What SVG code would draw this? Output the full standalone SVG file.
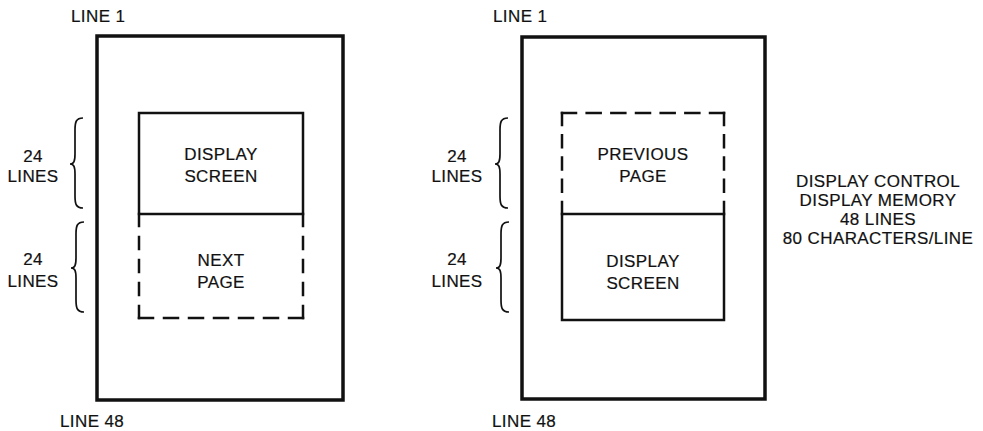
<svg xmlns="http://www.w3.org/2000/svg" width="983" height="431" viewBox="0 0 983 431">
<defs>
<style>
text{font-family:"Liberation Sans",Arial,sans-serif;font-size:17px;fill:#111;letter-spacing:0.4px;stroke:#111;stroke-width:0.2px}
.c{text-anchor:middle}
.outer{fill:none;stroke:#111;stroke-width:3.5}
.solid{fill:none;stroke:#111;stroke-width:2.5}
.dash{fill:none;stroke:#111;stroke-width:2.5;stroke-linecap:square}
.brace{fill:none;stroke:#111;stroke-width:1.7}
</style>
<path id="br" d="M13,0 C6,0 5,4 5,12 L5,36 C5,43 4,46 0,46 C4,46 5,49 5,56 L5,78 C5,86 6,90 13,90"/>
</defs>
<rect width="983" height="431" fill="#fff"/>

<g id="left-memory">
<rect class="outer" x="97" y="36" width="246" height="364"/>
<text x="71" y="22">LINE 1</text>
<text x="60" y="427">LINE 48</text>
</g>
<g id="left-display-screen">
<rect class="solid" x="139" y="113" width="164" height="101"/>
<text class="c" x="221" y="160">DISPLAY</text>
<text class="c" x="221" y="182">SCREEN</text>
</g>
<g id="left-next-page">
<line class="dash" x1="139" y1="214" x2="139" y2="318" stroke-dasharray="12 11"/>
<line class="dash" x1="139" y1="318" x2="303" y2="318" stroke-dasharray="14 11"/>
<line class="dash" x1="303" y1="214" x2="303" y2="318" stroke-dasharray="12 11"/>
<text class="c" x="221" y="266">NEXT</text>
<text class="c" x="221" y="288">PAGE</text>
</g>
<g id="left-brace-top">
<use href="#br" class="brace" x="70" y="118"/>
<text class="c" x="33" y="162">24</text>
<text class="c" x="33" y="182">LINES</text>
</g>
<g id="left-brace-bottom">
<use href="#br" class="brace" x="71" y="222"/>
<text class="c" x="33" y="265">24</text>
<text class="c" x="33" y="287">LINES</text>
</g>

<g id="right-memory">
<rect class="outer" x="522" y="37" width="243" height="362"/>
<text x="493" y="22">LINE 1</text>
<text x="492" y="427">LINE 48</text>
</g>
<g id="right-previous-page">
<line class="dash" x1="562" y1="113" x2="562" y2="214" stroke-dasharray="12 10.25"/>
<line class="dash" x1="562" y1="113" x2="724" y2="113" stroke-dasharray="14 10.67"/>
<line class="dash" x1="724" y1="113" x2="724" y2="214" stroke-dasharray="12 10.25"/>
<text class="c" x="643" y="160">PREVIOUS</text>
<text class="c" x="643" y="182">PAGE</text>
</g>
<g id="right-display-screen">
<rect class="solid" x="562" y="214" width="162" height="106"/>
<text class="c" x="643" y="267">DISPLAY</text>
<text class="c" x="643" y="289">SCREEN</text>
</g>
<g id="right-brace-top">
<use href="#br" class="brace" x="495" y="118"/>
<text class="c" x="457" y="162">24</text>
<text class="c" x="457" y="182">LINES</text>
</g>
<g id="right-brace-bottom">
<use href="#br" class="brace" x="496" y="222"/>
<text class="c" x="457" y="265">24</text>
<text class="c" x="457" y="287">LINES</text>
</g>

<g id="caption">
<text class="c" x="878" y="187">DISPLAY CONTROL</text>
<text class="c" x="878" y="206">DISPLAY MEMORY</text>
<text class="c" x="878" y="225">48 LINES</text>
<text class="c" x="878" y="244">80 CHARACTERS/LINE</text>
</g>
<g id="connectors"></g>
</svg>
